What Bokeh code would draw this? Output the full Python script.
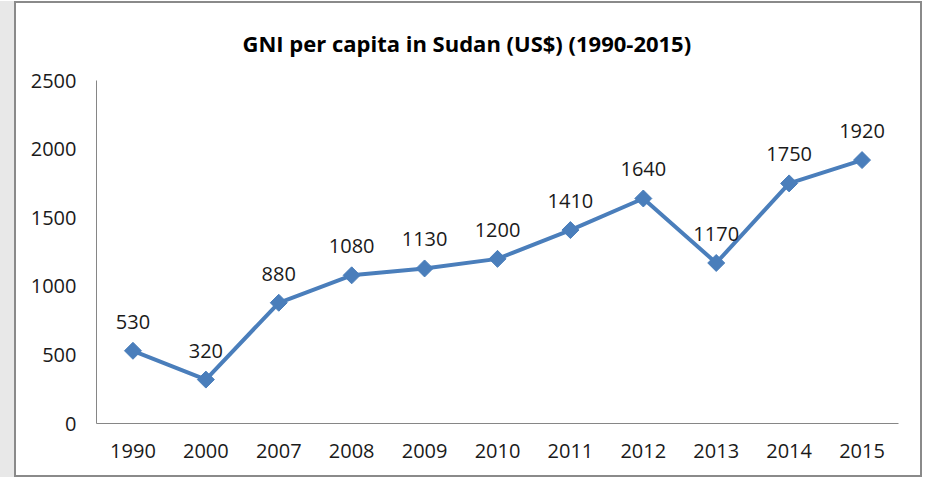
import math
from bokeh.plotting import figure
from bokeh.models import Range1d, FixedTicker, ColumnDataSource
from bokeh.core.properties import value
from bokeh.embed import file_html
from bokeh.resources import INLINE

years = ["1990", "2000", "2007", "2008", "2009", "2010", "2011", "2012", "2013", "2014", "2015"]
gni = [530, 320, 880, 1080, 1130, 1200, 1410, 1640, 1170, 1750, 1920]
y_ticks = [0, 500, 1000, 1500, 2000, 2500]
title_text = "GNI per capita in Sudan (US$) (1990-2015)"

FONT = "Open Sans"
BLUE = "#4a7ebb"

p = figure(x_range=years, y_range=Range1d(0, 2500), width=908, height=476,
           output_backend="svg", toolbar_location=None,
           min_border_left=80, min_border_right=26, min_border_top=75, min_border_bottom=56)
p.title.text = title_text
p.title.text_font = FONT
p.title.text_font_size = "22px"
p.title.text_font_style = "bold"
p.title.text_color = "#000000"
p.title.align = "left"
p.title.offset = 146
p.title.standoff = 45

p.styles = {"border": "2px solid #8a8a8a", "box-sizing": "border-box",
            "margin-left": "14px", "margin-top": "1px",
            "box-shadow": "-14px 0 0 #e8e8e8"}
p.outline_line_color = None
p.background_fill_color = "white"
p.border_fill_color = "white"
p.xgrid.grid_line_color = None
p.ygrid.grid_line_color = None

for ax in (p.xaxis, p.yaxis):
    ax.axis_line_color = "#868686"
    ax.major_tick_line_color = None
    ax.minor_tick_line_color = None
    ax.major_label_text_font = FONT
    ax.major_label_text_font_size = "20px"
    ax.major_label_text_color = "#1a1a1a"
p.yaxis.ticker = FixedTicker(ticks=y_ticks)
p.yaxis.major_label_standoff = 14
p.xaxis.major_label_standoff = 14

src = ColumnDataSource(dict(x=years, y=gni, t=[str(v) for v in gni]))
p.line("x", "y", source=src, line_color=BLUE, line_width=4)
p.scatter("x", "y", source=src, marker="square", angle=math.pi / 4, size=12,
          fill_color=BLUE, line_color=BLUE)
p.text("x", "y", text="t", source=src, text_font=value(FONT), text_font_size="20px",
       text_color="#1a1a1a", text_align="center", text_baseline="bottom", y_offset=-22)

open("out.html", "w").write(file_html(p, INLINE))
